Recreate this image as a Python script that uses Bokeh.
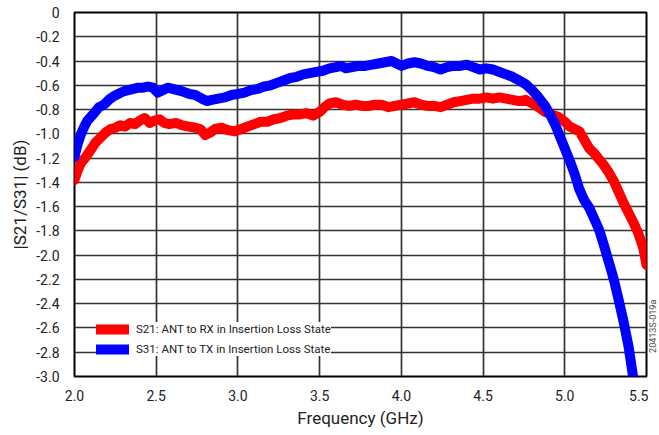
from bokeh.plotting import figure
from bokeh.layouts import row
from bokeh.models import Range1d, FixedTicker, Legend, LegendItem
from bokeh.core.properties import value
from bokeh.embed import file_html
from bokeh.resources import INLINE

# ---- data ----
freq_s21 = [2.00, 2.02, 2.04, 2.07, 2.10, 2.13, 2.16, 2.19, 2.22, 2.25, 2.28, 2.31, 2.34, 2.37,
            2.40, 2.43, 2.46, 2.49, 2.52, 2.55, 2.58, 2.62, 2.66, 2.70, 2.74, 2.77, 2.80, 2.83,
            2.86, 2.90, 2.94, 2.98, 3.02, 3.06, 3.10, 3.14, 3.18, 3.22, 3.26, 3.30, 3.34, 3.38,
            3.42, 3.46, 3.50, 3.53, 3.56, 3.60, 3.64, 3.68, 3.72, 3.76, 3.80, 3.84, 3.88, 3.92,
            3.96, 4.00, 4.04, 4.08, 4.12, 4.16, 4.20, 4.24, 4.28, 4.32, 4.36, 4.40, 4.44, 4.48,
            4.52, 4.56, 4.60, 4.64, 4.68, 4.72, 4.76, 4.80, 4.84, 4.88, 4.92, 4.96, 5.00, 5.03,
            5.06, 5.09, 5.12, 5.15, 5.18, 5.21, 5.24, 5.27, 5.30, 5.33, 5.36, 5.39, 5.42, 5.45,
            5.48, 5.50]
s21_db = [-1.38, -1.30, -1.24, -1.19, -1.13, -1.07, -1.03, -0.99, -0.96, -0.95, -0.93, -0.94, -0.91, -0.92,
          -0.89, -0.87, -0.91, -0.89, -0.88, -0.91, -0.92, -0.91, -0.93, -0.94, -0.95, -0.96, -1.01, -0.99,
          -0.96, -0.95, -0.97, -0.98, -0.96, -0.94, -0.92, -0.90, -0.90, -0.88, -0.87, -0.85, -0.84, -0.84,
          -0.83, -0.85, -0.82, -0.78, -0.75, -0.74, -0.76, -0.77, -0.76, -0.77, -0.77, -0.76, -0.76, -0.78,
          -0.77, -0.76, -0.75, -0.74, -0.76, -0.77, -0.77, -0.78, -0.76, -0.74, -0.73, -0.72, -0.71, -0.71,
          -0.70, -0.71, -0.70, -0.71, -0.72, -0.73, -0.72, -0.75, -0.78, -0.82, -0.84, -0.86, -0.90, -0.94,
          -0.96, -0.98, -1.05, -1.12, -1.16, -1.21, -1.26, -1.32, -1.39, -1.48, -1.57, -1.65, -1.73, -1.82,
          -1.94, -2.08]

freq_s31 = [2.00, 2.02, 2.04, 2.06, 2.08, 2.10, 2.12, 2.15, 2.18, 2.21, 2.24, 2.27, 2.30, 2.33,
            2.36, 2.39, 2.42, 2.45, 2.48, 2.51, 2.54, 2.57, 2.60, 2.63, 2.66, 2.70, 2.74, 2.78,
            2.81, 2.84, 2.88, 2.92, 2.96, 3.00, 3.04, 3.08, 3.12, 3.16, 3.20, 3.24, 3.28, 3.32,
            3.36, 3.40, 3.44, 3.48, 3.52, 3.56, 3.60, 3.63, 3.66, 3.70, 3.74, 3.78, 3.82, 3.86,
            3.90, 3.94, 3.97, 4.00, 4.04, 4.08, 4.12, 4.16, 4.20, 4.24, 4.28, 4.32, 4.36, 4.40,
            4.44, 4.48, 4.52, 4.56, 4.60, 4.64, 4.68, 4.72, 4.76, 4.80, 4.84, 4.88, 4.91, 4.94,
            4.97, 5.00, 5.03, 5.06, 5.09, 5.12, 5.15, 5.18, 5.21, 5.24, 5.27, 5.30, 5.33, 5.36,
            5.39, 5.42]
s31_db = [-1.19, -1.08, -1.00, -0.94, -0.89, -0.86, -0.83, -0.78, -0.76, -0.72, -0.69, -0.67, -0.65, -0.64,
          -0.63, -0.62, -0.62, -0.61, -0.62, -0.66, -0.64, -0.62, -0.63, -0.64, -0.65, -0.67, -0.68, -0.71,
          -0.73, -0.72, -0.71, -0.70, -0.68, -0.67, -0.66, -0.64, -0.63, -0.61, -0.60, -0.58, -0.56, -0.54,
          -0.53, -0.51, -0.50, -0.49, -0.48, -0.46, -0.45, -0.44, -0.46, -0.45, -0.44, -0.44, -0.43, -0.42,
          -0.41, -0.40, -0.42, -0.44, -0.42, -0.41, -0.42, -0.44, -0.45, -0.47, -0.45, -0.44, -0.44, -0.43,
          -0.45, -0.47, -0.46, -0.47, -0.49, -0.51, -0.53, -0.56, -0.59, -0.64, -0.70, -0.77, -0.84, -0.92,
          -1.02, -1.12, -1.22, -1.33, -1.46, -1.55, -1.61, -1.70, -1.79, -1.92, -2.06, -2.20, -2.37, -2.55,
          -2.75, -3.02]

x_ticks = [2.0, 2.5, 3.0, 3.5, 4.0, 4.5, 5.0, 5.5]
y_ticks = [0, -0.2, -0.4, -0.6, -0.8, -1.0, -1.2, -1.4, -1.6, -1.8, -2.0, -2.2, -2.4, -2.6, -2.8, -3.0]
y_tick_labels = {0: "0", -0.2: "-0.2", -0.4: "-0.4", -0.6: "-0.6", -0.8: "-0.8", -1.0: "-1.0",
                 -1.2: "-1.2", -1.4: "-1.4", -1.6: "-1.6", -1.8: "-1.8", -2.0: "-2.0", -2.2: "-2.2",
                 -2.4: "-2.4", -2.6: "-2.6", -2.8: "-2.8", -3.0: "-3.0"}
x_tick_labels = {2.0: "2.0", 2.5: "2.5", 3.0: "3.0", 3.5: "3.5", 4.0: "4.0", 4.5: "4.5", 5.0: "5.0", 5.5: "5.5"}
label_s21 = "S21: ANT to RX in Insertion Loss State"
label_s31 = "S31: ANT to TX in Insertion Loss State"
figure_code = "20413S-019a"
FONT = "Roboto"

p = figure(width=648, height=425, output_backend="svg", toolbar_location=None,
           x_range=Range1d(2.0, 5.5), y_range=Range1d(-3.0, 0.0),
           min_border_left=74, min_border_right=2, min_border_top=12, min_border_bottom=49)
p.frame_width = 572
p.frame_height = 364

p.outline_line_color = "black"
p.outline_line_width = 2
p.background_fill_color = "white"
p.border_fill_color = "white"

for g in (p.xgrid, p.ygrid):
    g.grid_line_color = "#333333"
    g.grid_line_width = 1.7
p.xaxis.ticker = FixedTicker(ticks=x_ticks)
p.yaxis.ticker = FixedTicker(ticks=y_ticks)
p.xgrid.ticker = FixedTicker(ticks=x_ticks)
p.ygrid.ticker = FixedTicker(ticks=y_ticks)
p.xaxis.major_label_overrides = x_tick_labels
p.yaxis.major_label_overrides = y_tick_labels

for ax in (p.xaxis, p.yaxis):
    ax.axis_line_color = None
    ax.major_tick_line_color = None
    ax.minor_tick_line_color = None
    ax.major_label_text_font = FONT
    ax.major_label_text_font_size = "14px"
    ax.major_label_text_color = "#222222"
    ax.axis_label_text_font = FONT
    ax.axis_label_text_font_size = "17px"
    ax.axis_label_text_font_style = "normal"
    ax.axis_label_text_color = "#222222"
p.xaxis.major_label_standoff = 7
p.yaxis.major_label_standoff = 9
p.xaxis.axis_label = "Frequency (GHz)"
p.yaxis.axis_label = "|S21/S31| (dB)"
p.xaxis.axis_label_standoff = 4
p.yaxis.axis_label_standoff = 3

r21 = p.line(freq_s21, s21_db, line_color="#ff0000", line_width=10, line_cap="round", line_join="round")
r31 = p.line(freq_s31, s31_db, line_color="#0000ff", line_width=10, line_cap="round", line_join="round")

legend = Legend(items=[LegendItem(label=label_s21, renderers=[r21]),
                       LegendItem(label=label_s31, renderers=[r31])],
                location=(22, 20))
legend.background_fill_color = "white"
legend.background_fill_alpha = 1.0
legend.border_line_color = None
legend.padding = 6
legend.margin = 0
legend.spacing = 6
legend.glyph_width = 33
legend.glyph_height = 14
legend.label_height = 14
legend.label_standoff = 7
legend.label_text_font = FONT
legend.label_text_font_size = "11.5px"
legend.label_text_color = "#222222"
p.add_layout(legend, "center")

# narrow strip to the right of the chart for the rotated figure code
side = figure(width=10, height=425, output_backend="svg", toolbar_location=None,
              x_range=Range1d(0, 1), y_range=Range1d(0, 425),
              min_border_left=0, min_border_right=0, min_border_top=0, min_border_bottom=0)
side.axis.visible = False
side.grid.visible = False
side.outline_line_color = None
side.background_fill_color = "white"
side.border_fill_color = "white"
side.text(x=[0.45], y=[22], text=[figure_code], angle=1.5708,
          text_font=value(FONT), text_font_size="9px", text_color="#444444",
          text_baseline="middle", text_align="left")

layout = row(p, side, spacing=0)
open("out.html", "w").write(file_html(layout, INLINE))
